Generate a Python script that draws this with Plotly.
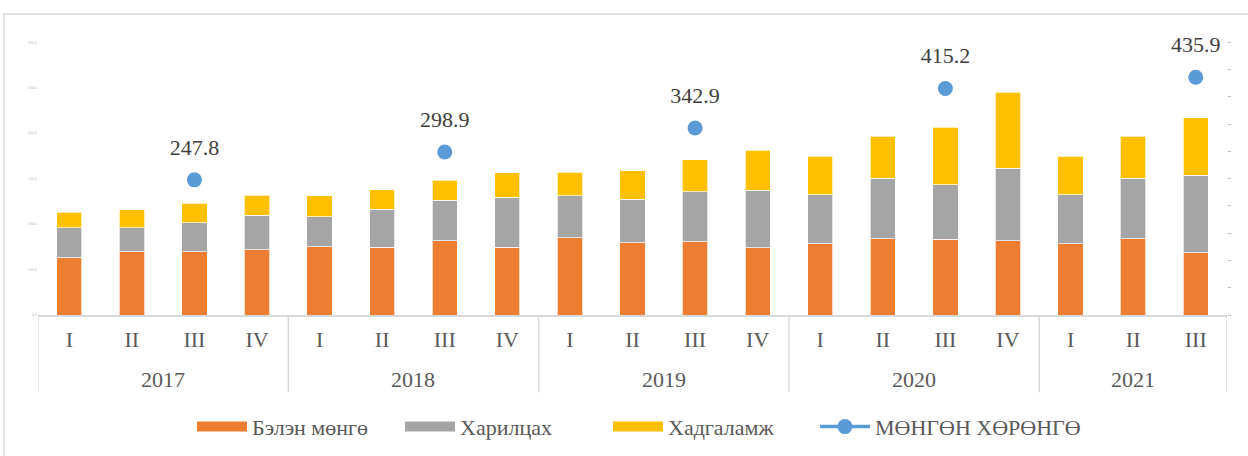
import plotly.graph_objects as go

years = ["2017"] * 4 + ["2018"] * 4 + ["2019"] * 4 + ["2020"] * 4 + ["2021"] * 3
quarters = ["I", "II", "III", "IV"] * 4 + ["I", "II", "III"]

cash = [126.9, 138.7, 138.7, 143.1, 150.4, 148.8, 162.9, 148.8, 169.5, 158.5,
        161.4, 148.2, 156.3, 167.3, 166.4, 162.9, 156.3, 167.3, 136.6]
current = [64.5, 53.3, 64.3, 76.0, 65.9, 83.4, 89.1, 109.8, 92.2, 95.7,
           109.1, 125.8, 107.6, 133.0, 120.1, 160.3, 107.6, 133.0, 171.2]
savings = [34.2, 38.9, 42.4, 43.9, 46.1, 43.2, 44.8, 54.2, 52.7, 63.0,
           70.9, 88.7, 85.6, 92.2, 126.7, 166.9, 85.6, 92.2, 125.8]
money = [None, None, 247.8, None, None, None, 298.9, None, None, None,
         342.9, None, None, None, 415.2, None, None, None, 435.9]

names = ["Бэлэн мөнгө", "Харилцах", "Хадгаламж", "МӨНГӨН ХӨРӨНГӨ"]
colors = ["#ed7d31", "#a5a5a5", "#ffc000", "#5b9bd5"]

FONT = "Liberation Serif"
TXT = "#595959"
GRID = "#d9d9d9"
FS = 22
idx = list(range(len(quarters)))

fig = go.Figure()
for vals, name, col in zip([cash, current, savings], names[:3], colors[:3]):
    fig.add_trace(go.Bar(x=idx, y=vals, name=name, marker_color=col,
                         legendgroup=name, showlegend=False,
                         marker_line=dict(color="rgba(255,255,255,0.7)", width=1)))
    # legend swatch (wide rectangle like the original)
    fig.add_trace(go.Scatter(x=[None], y=[None], name=name, legendgroup=name,
                             mode="lines", line=dict(color=col, width=13)))

labels = [f"{v:.1f}" if v is not None else None for v in money]
fig.add_trace(go.Scatter(x=idx, y=money, name=names[3], yaxis="y2", legend="legend2",
                         mode="lines+markers", connectgaps=False,
                         line=dict(color=colors[3], width=3.5),
                         marker=dict(size=15, color=colors[3])))
fig.add_trace(go.Scatter(x=idx, y=money, yaxis="y2", mode="markers+text",
                         text=labels, textposition="top center",
                         textfont=dict(family=FONT, size=FS, color="#404040"),
                         marker=dict(size=30, color="rgba(0,0,0,0)"),
                         showlegend=False, hoverinfo="skip"))

# year group labels and dividers for the two-level category axis
plot_h = 456 - 33 - 140.5
groups = []
for i, y in enumerate(years):
    if not groups or groups[-1][0] != y:
        groups.append([y, i, i])
    else:
        groups[-1][2] = i

annotations = []
shapes = [dict(type="rect", xref="paper", yref="paper",
               x0=-0.0286, x1=1.1, y0=-0.6, y1=1.067,
               line=dict(color=GRID, width=1.5), layer="below")]
div_bottom = -(393 - 315.5) / plot_h
for y, a, b in groups:
    annotations.append(dict(x=(a + b) / 2, y=-64.5 / plot_h, xref="x", yref="paper",
                            text=y, showarrow=False, yanchor="middle",
                            font=dict(family=FONT, size=FS, color=TXT)))
    shapes.append(dict(type="line", xref="x", yref="paper", x0=a - 0.5, x1=a - 0.5,
                       y0=0, y1=div_bottom, line=dict(color=GRID, width=1.5)))
shapes.append(dict(type="line", xref="x", yref="paper",
                   x0=groups[-1][2] + 0.5, x1=groups[-1][2] + 0.5,
                   y0=0, y1=div_bottom, line=dict(color=GRID, width=1.5)))

legend_common = dict(orientation="h", xanchor="left", yref="container",
                     y=0.064, yanchor="middle", traceorder="normal", itemwidth=50,
                     font=dict(family=FONT, size=FS, color=TXT))

fig.update_layout(
    width=1248, height=456,
    barmode="stack", bargap=0.596,
    paper_bgcolor="white", plot_bgcolor="white",
    margin=dict(l=38, r=21, t=33, b=140.5, autoexpand=False),
    font=dict(family=FONT, color=TXT, size=FS),
    xaxis=dict(range=[-0.5, len(idx) - 0.5], tickvals=idx, ticktext=quarters,
               showline=True, linecolor=GRID, linewidth=1.5,
               ticks="", ticklabelstandoff=4,
               tickfont=dict(family=FONT, size=FS, color=TXT),
               showgrid=False, zeroline=False),
    yaxis=dict(range=[0, 620], dtick=100, tickformat=".1f", showgrid=False,
               zeroline=False, ticks="", tickfont=dict(size=4, color="#bfbfbf")),
    yaxis2=dict(overlaying="y", side="right", range=[0, 517], dtick=50,
                showgrid=False, zeroline=False, showticklabels=False,
                ticks="outside", ticklen=3, tickcolor="#bfbfbf"),
    legend=dict(x=(192 - 38) / 1189, entrywidth=143, **legend_common),
    legend2=dict(x=(815 - 38) / 1189, **legend_common),
    showlegend=True,
    annotations=annotations,
    shapes=shapes,
)

fig.write_html("out.html", config={"displayModeBar": False},
               post_script="document.body.style.margin='0';")
